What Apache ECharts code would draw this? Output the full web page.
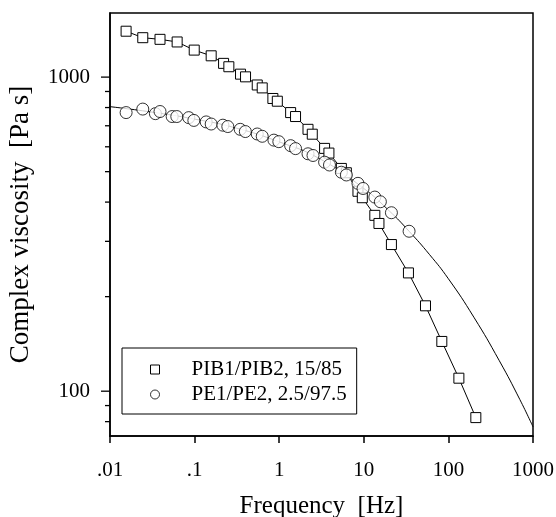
<!DOCTYPE html>
<html>
<head>
<meta charset="utf-8">
<script src="https://cdn.jsdelivr.net/npm/echarts@6/dist/echarts.min.js"></script>
<style>
    html, body { margin: 0; padding: 0; background: #fff; }
    #chart { width: 556px; height: 517px; }
</style>
</head>
<body>
<div id="chart"></div>
<script>
// PIB1/PIB2 15/85 (squares)
var pibFreq = [0.0155, 0.0244, 0.039, 0.0622, 0.099, 0.157, 0.22, 0.254, 0.349, 0.40, 0.55, 0.63, 0.842, 0.95, 1.365, 1.56, 2.19, 2.46, 3.44, 3.87, 5.43, 6.22, 8.53, 9.6, 13.5, 15.1, 21.2, 33.7, 53.6, 83.6, 133, 211];
var pibVisc = [1400, 1335, 1319, 1294, 1219, 1169, 1106, 1079, 1022, 1002, 944, 924, 855, 838, 771, 749, 682, 658, 593, 573, 512, 496, 433, 413, 363, 342, 293, 238, 187, 144, 110, 82.4];

// PE1/PE2 2.5/97.5 (circles)
var peFreq = [0.0155, 0.0244, 0.0344, 0.039, 0.0543, 0.0616, 0.0853, 0.098, 0.137, 0.157, 0.216, 0.247, 0.346, 0.398, 0.55, 0.63, 0.866, 0.99, 1.365, 1.56, 2.19, 2.51, 3.44, 3.93, 5.43, 6.22, 8.53, 9.8, 13.5, 15.7, 21.2, 34.3];
var peVisc = [771, 791, 765, 777, 749, 749, 743, 728, 720, 709, 703, 696, 682, 671, 659, 648, 630, 623, 605, 592, 570, 563, 536, 525, 498, 488, 459, 442, 415, 401, 370, 323];

// fitted curve through PE data
var peFitFreq = [0.0093, 0.03, 0.1, 0.3, 1, 3, 10, 20, 34.3, 60, 100, 200, 400, 700, 1000];
var peFitVisc = [807, 775, 735, 690, 622, 550, 442, 375, 323, 272, 228, 172, 125, 94, 77];

var xTickLabels = ['.01', '.1', '1', '10', '100', '1000'];
var yTickValues = [80, 90, 100, 200, 300, 400, 500, 600, 700, 800, 900, 1000];

var pibName = 'PIB1/PIB2, 15/85';
var peName = 'PE1/PE2, 2.5/97.5';

function pairs(xs, ys) {
    var out = [];
    for (var i = 0; i < xs.length; i++) {
        out.push([xs[i], ys[i]]);
    }
    return out;
}

var serif = '"Liberation Serif", "DejaVu Serif", serif';
var chart = echarts.init(document.getElementById('chart'), null, { renderer: 'canvas' });

var option = {
    backgroundColor: '#fff',
    animation: false,
    grid: {
        left: 110, right: 23, top: 13, bottom: 81,
        outerBoundsMode: 'none',
        containLabel: false,
        show: true, borderColor: '#000', borderWidth: 1.5, backgroundColor: 'transparent'
    },
    legend: {
        orient: 'vertical',
        left: 122, top: 348,
        padding: [11, 10, 9, 28],
        itemGap: 4,
        itemWidth: 9, itemHeight: 9,
        borderColor: '#000', borderWidth: 1,
        backgroundColor: '#fff',
        selectedMode: false,
        textStyle: { fontFamily: serif, fontSize: 21, color: '#000', padding: [0, 0, 0, 27], lineHeight: 21 },
        data: [
            { name: pibName, icon: 'rect', itemStyle: { color: '#fff', borderColor: '#000', borderWidth: 1 } },
            { name: peName, icon: 'circle', itemStyle: { color: '#fff', borderColor: '#000', borderWidth: 1 } }
        ]
    },
    xAxis: {
        type: 'log',
        min: 0.01, max: 1000,
        name: 'Frequency  [Hz]',
        nameLocation: 'middle',
        nameGap: 58,
        nameTextStyle: { fontFamily: serif, fontSize: 25, color: '#000' },
        axisLine: { lineStyle: { color: '#000', width: 1.5 } },
        axisTick: { show: true, length: 7, lineStyle: { color: '#000', width: 1.5 } },
        axisLabel: {
            fontFamily: serif, fontSize: 21, color: '#000', margin: 24,
            formatter: function (v) {
                var k = Math.round(Math.log10(v)) + 2;
                return xTickLabels[k] || '';
            }
        },
        splitLine: { show: false },
        minorTick: { show: false }
    },
    yAxis: {
        type: 'log',
        min: 72, max: 1600,
        name: 'Complex viscosity  [Pa s]',
        nameLocation: 'middle',
        nameGap: 76,
        nameTextStyle: { fontFamily: serif, fontSize: 27, color: '#000' },
        axisLine: { lineStyle: { color: '#000', width: 1.5 } },
        axisTick: { show: false },
        axisLabel: {
            fontFamily: serif, fontSize: 21, color: '#000', margin: 20,
            formatter: function (v) {
                var l = Math.log10(v);
                if (Math.abs(l - Math.round(l)) < 1e-6) {
                    return String(Math.round(v));
                }
                return '';
            }
        },
        splitLine: { show: false }
    },
    series: [
        {
            // y axis ticks at 80..1000
            type: 'custom',
            silent: true,
            clip: false,
            data: yTickValues,
            renderItem: function (params, api) {
                var v = api.value(0);
                var p = api.coord([0.01, v]);
                var x0 = params.coordSys.x;
                var major = Math.abs(Math.log10(v) - Math.round(Math.log10(v))) < 1e-6;
                var len = major ? 9 : 5;
                return {
                    type: 'line',
                    shape: { x1: x0 - len, y1: p[1], x2: x0, y2: p[1] },
                    style: { stroke: '#000', lineWidth: 1.3 }
                };
            },
            encode: { y: 0 },
            z: 1
        },
        {
            name: 'fit',
            type: 'line',
            data: pairs(peFitFreq, peFitVisc),
            smooth: 0.5,
            showSymbol: false,
            symbol: 'none',
            lineStyle: { color: '#000', width: 1 },
            z: 2
        },
        {
            name: pibName,
            type: 'line',
            data: pairs(pibFreq, pibVisc),
            symbol: 'rect',
            symbolSize: 10,
            lineStyle: { color: '#000', width: 1 },
            itemStyle: { color: '#fff', borderColor: '#000', borderWidth: 1 },
            z: 3
        },
        {
            name: peName,
            type: 'scatter',
            data: pairs(peFreq, peVisc),
            symbol: 'circle',
            symbolSize: 12,
            itemStyle: { color: '#fff', borderColor: '#000', borderWidth: 1 },
            z: 4
        }
    ]
};

chart.setOption(option);
</script>
</body>
</html>
